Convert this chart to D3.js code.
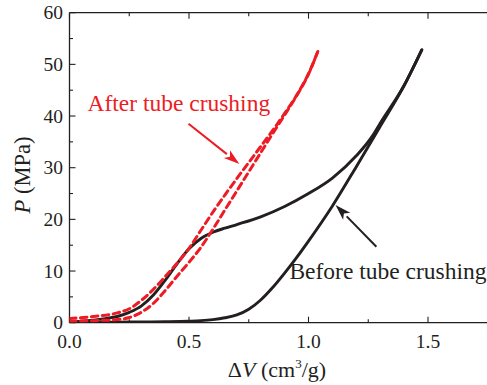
<!DOCTYPE html>
<html>
<head>
<meta charset="utf-8">
<script src="https://cdn.jsdelivr.net/npm/d3@7"></script>
<style>
  html, body { margin: 0; padding: 0; background: #fff; }
  svg { display: block; }
  text { font-family: "Liberation Serif", "Times New Roman", serif; fill: #231f20; }
</style>
</head>
<body>
<svg id="chart" width="487" height="385"></svg>
<script>
// ---- data ----
const xTicks = [0.0, 0.5, 1.0, 1.5];
const xTickLabels = ["0.0", "0.5", "1.0", "1.5"];
const yTicks = [0, 10, 20, 30, 40, 50, 60];
const yTickLabels = ["0", "10", "20", "30", "40", "50", "60"];

// Before tube crushing: loading branch (lower)
const beforeLoadX = [0, 0.1, 0.2, 0.3, 0.4, 0.5, 0.55, 0.6, 0.65, 0.7, 0.75, 0.8, 0.85, 0.9, 0.95, 1.0, 1.1, 1.2, 1.3, 1.4, 1.474];
const beforeLoadY = [0, 0.05, 0.1, 0.15, 0.2, 0.3, 0.4, 0.6, 0.95, 1.5, 2.6, 4.4, 6.8, 9.6, 12.6, 15.8, 22.6, 30.2, 38.0, 45.9, 52.8];
// Before tube crushing: unloading branch (upper), listed by increasing x
const beforeUnloadX = [0, 0.05, 0.1, 0.15, 0.2, 0.25, 0.3, 0.35, 0.4, 0.45, 0.5, 0.55, 0.6, 0.65, 0.7, 0.8, 0.9, 1.0, 1.1, 1.2, 1.27, 1.3, 1.4, 1.474];
const beforeUnloadY = [0.2, 0.3, 0.5, 0.8, 1.2, 2.0, 3.2, 5.3, 8.2, 11.4, 14.3, 16.3, 17.5, 18.3, 19.0, 20.5, 22.5, 25.0, 28.0, 32.3, 36.3, 38.6, 45.9, 52.8];

// After tube crushing: two dashed branches
const afterAX = [0, 0.1, 0.2, 0.25, 0.3, 0.35, 0.4, 0.45, 0.5, 0.55, 0.6, 0.65, 0.7, 0.75, 0.8, 0.85, 0.9, 0.95, 1.0, 1.039];
const afterAY = [0.8, 1.2, 1.9, 2.7, 4.3, 6.4, 8.9, 11.5, 14.4, 17.9, 21.4, 24.7, 27.9, 31.0, 34.1, 37.2, 40.5, 44.0, 48.2, 52.5];
const afterBX = [0, 0.1, 0.2, 0.25, 0.3, 0.35, 0.4, 0.45, 0.5, 0.55, 0.6, 0.65, 0.7, 0.75, 0.8, 0.85, 0.9, 0.95, 1.0, 1.039];
const afterBY = [0.3, 0.4, 0.6, 1.0, 2.0, 3.7, 6.2, 9.0, 11.7, 14.6, 18.1, 21.8, 25.5, 29.2, 32.9, 36.6, 40.2, 43.9, 48.1, 52.5];

// ---- layout ----
const svg = d3.select("#chart");
const x = d3.scaleLinear().domain([0, 1.75]).range([69.5, 487.75]);
const y = d3.scaleLinear().domain([0, 60]).range([322.7, 12.7]);
const ink = "#231f20";
const red = "#ed1c24";

const clipId = "plotclip";
svg.append("defs").append("clipPath").attr("id", clipId)
  .append("rect").attr("x", 69.5).attr("y", 12.7).attr("width", 420).attr("height", 310);

// frame lines (left, bottom, top)
const frame = svg.append("g").attr("stroke", ink).attr("stroke-width", 1.3).attr("fill", "none");
frame.append("line").attr("x1", x(0)).attr("x2", x(0)).attr("y1", y(0)).attr("y2", y(60));
frame.append("line").attr("x1", x(0)).attr("x2", 487).attr("y1", y(0)).attr("y2", y(0));
frame.append("line").attr("x1", x(0)).attr("x2", 487).attr("y1", y(60)).attr("y2", y(60));

// ticks (inward)
const minorX = d3.range(0, 1.76, 0.25);
const minorY = d3.range(0, 61, 5);
const tk = svg.append("g").attr("stroke", ink).attr("stroke-width", 1.1);
minorX.forEach(v => {
  const major = Math.abs(v * 2 - Math.round(v * 2)) < 1e-6;
  const L = major ? 6 : 3.5;
  tk.append("line").attr("x1", x(v)).attr("x2", x(v)).attr("y1", y(0)).attr("y2", y(0) - L);
  tk.append("line").attr("x1", x(v)).attr("x2", x(v)).attr("y1", y(60)).attr("y2", y(60) + L);
});
minorY.forEach(v => {
  const major = v % 10 === 0;
  const L = major ? 6 : 3.5;
  tk.append("line").attr("x1", x(0)).attr("x2", x(0) + L).attr("y1", y(v)).attr("y2", y(v));
});

// tick labels
const tl = svg.append("g").attr("font-size", 19.5);
xTicks.forEach((v, i) => {
  tl.append("text").attr("x", x(v)).attr("y", y(0) + 25).attr("text-anchor", "middle").text(xTickLabels[i]);
});
yTicks.forEach((v, i) => {
  tl.append("text").attr("x", x(0) - 6.5).attr("y", y(v)).attr("dy", "0.34em").attr("text-anchor", "end").text(yTickLabels[i]);
});

// axis titles
const xt = svg.append("text").attr("x", 277).attr("y", 377).attr("text-anchor", "middle").attr("font-size", 22);
xt.append("tspan").text("Δ");
xt.append("tspan").attr("font-style", "italic").text("V");
xt.append("tspan").text(" (cm");
xt.append("tspan").attr("font-size", 13).attr("dy", -9).text("3");
xt.append("tspan").attr("dy", 9).text("/g)");

const yt = svg.append("text").attr("transform", "translate(30,175) rotate(-90)")
  .attr("text-anchor", "middle").attr("font-size", 22.5);
yt.append("tspan").attr("font-style", "italic").text("P");
yt.append("tspan").text(" (MPa)");

// curves
const line = d3.line().x(d => x(d[0])).y(d => y(d[1])).curve(d3.curveMonotoneX);
const plot = svg.append("g").attr("clip-path", `url(#${clipId})`);
const zip = (a, b) => a.map((v, i) => [v, b[i]]);

plot.append("path").datum(zip(beforeLoadX, beforeLoadY)).attr("d", line)
  .attr("fill", "none").attr("stroke", ink).attr("stroke-width", 2.9).attr("stroke-linecap", "round");
plot.append("path").datum(zip(beforeUnloadX, beforeUnloadY)).attr("d", line)
  .attr("fill", "none").attr("stroke", ink).attr("stroke-width", 2.9).attr("stroke-linecap", "round");

[zip(afterAX, afterAY), zip(afterBX, afterBY)].forEach(d => {
  plot.append("path").datum(d).attr("d", line)
    .attr("fill", "none").attr("stroke", red).attr("stroke-width", 3)
    .attr("stroke-dasharray", "6.5,4.5").attr("stroke-linecap", "round");
});

// annotations
function arrow(x1, y1, x2, y2, color, w) {
  const g = svg.append("g");
  const ang = Math.atan2(y2 - y1, x2 - x1);
  const hl = 16, hw = 5;
  const bx = x2 - hl * Math.cos(ang), by = y2 - hl * Math.sin(ang);
  g.append("line").attr("x1", x1).attr("y1", y1).attr("x2", bx).attr("y2", by)
    .attr("stroke", color).attr("stroke-width", w);
  const px = -Math.sin(ang), py = Math.cos(ang);
  g.append("path").attr("d", `M${x2},${y2}L${bx + px * hw},${by + py * hw}L${bx + 4 * Math.cos(ang)},${by + 4 * Math.sin(ang)}L${bx - px * hw},${by - py * hw}Z`)
    .attr("fill", color);
}
svg.append("text").attr("x", x(0.075)).attr("y", y(41.0)).attr("font-size", 23.5)
  .style("fill", red).text("After tube crushing");
arrow(x(0.498), y(38.5), x(0.711), y(30.7), red, 2);
svg.append("text").attr("x", x(0.92)).attr("y", y(8.45)).attr("font-size", 23.5)
  .text("Before tube crushing");
arrow(x(1.284), y(14.7), x(1.113), y(22.8), ink, 2);
</script>
</body>
</html>
